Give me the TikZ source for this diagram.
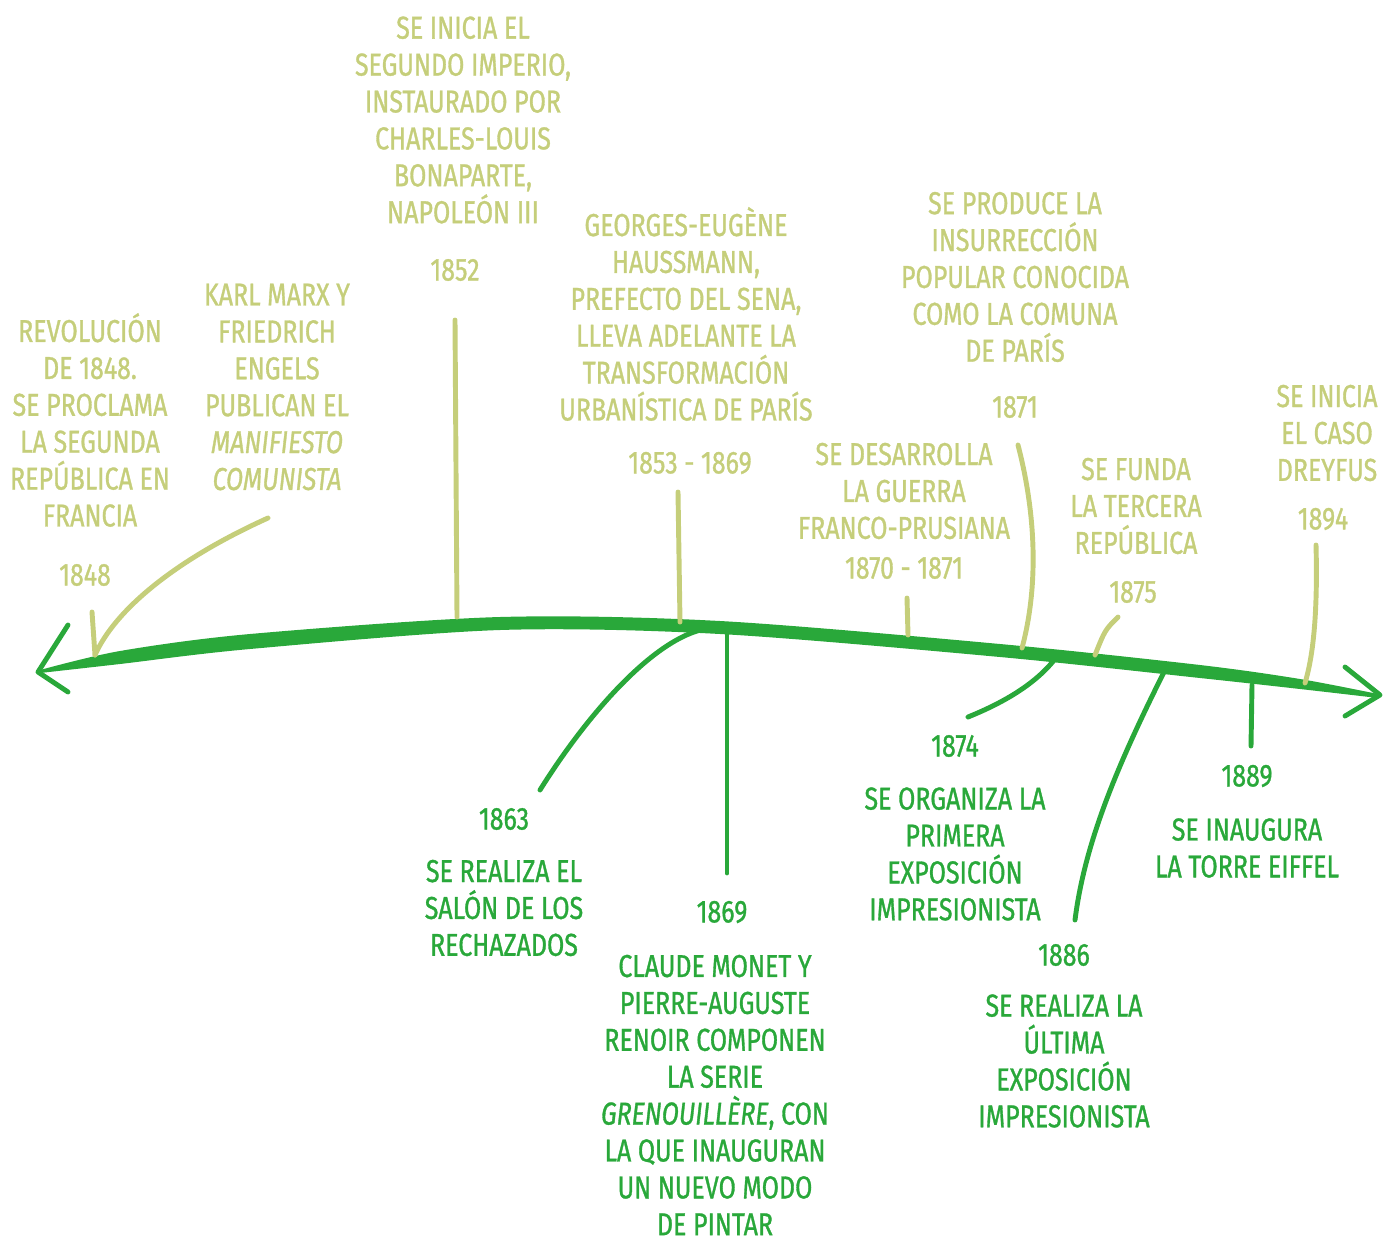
\documentclass[tikz,border=0pt]{standalone}
\usepackage{fontspec}
\setmainfont{Fira Sans}[FakeStretch=0.79,FakeBold=1]
\usepackage{tikz}

\definecolor{paleG}{RGB}{197,206,122}
\definecolor{deepG}{RGB}{41,168,58}

\tikzset{
  txt/.style={align=center,inner sep=0pt,font=\fontsize{18}{21}\selectfont},
  early/.style={txt,text=paleG},
  late/.style={txt,text=deepG},
  tick/.style={draw=paleG,line width=2.8pt,line cap=round},
  tock/.style={draw=deepG,line width=2.8pt,line cap=round}
}

\begin{document}
\begin{tikzpicture}[x=0.02cm,y=-0.02cm]
      \useasboundingbox (0,0) rectangle (1399,1241);

      % eje del tiempo
      \fill[deepG] plot[smooth] coordinates {(40,670) (120,651) (250,634) (500,617) (720,621) (1000,644) (1200,665) (1300,679) (1378,694)}
        -- plot[smooth] coordinates {(1378,698) (1300,689) (1200,678) (1000,657) (720,634) (500,630) (250,649) (120,664) (40,673)} -- cycle;
      \coordinate (lt) at (38,672); \coordinate (lu) at (68,625); \coordinate (ld) at (68,692);
      \coordinate (rt) at (1380,695); \coordinate (ru) at (1345,667); \coordinate (rd) at (1345,716);
      \draw[tock,line join=round] (lu) -- (lt) -- (ld);
      \draw[tock,line join=round] (ru) -- (rt) -- (rd);

      % arriba
      \node[early] (e1848) at (90,420) {REVOLUCIÓN\\DE 1848.\\SE PROCLAMA\\LA SEGUNDA\\REPÚBLICA EN\\FRANCIA};
      \node[early] (y1848) at (85,575) {1848};
      \node[early] (e1848m) at (277,387) {KARL MARX Y\\FRIEDRICH\\ENGELS\\PUBLICAN EL\\\textit{MANIFIESTO}\\\textit{COMUNISTA}};
      \node[early] (e1852) at (463,120) {SE INICIA EL\\SEGUNDO IMPERIO,\\INSTAURADO POR\\CHARLES-LOUIS\\BONAPARTE,\\NAPOLEÓN III};
      \node[early] (y1852) at (455,270) {1852};
      \node[early] (e1853) at (686,314) {GEORGES-EUGÈNE\\HAUSSMANN,\\PREFECTO DEL SENA,\\LLEVA ADELANTE LA\\TRANSFORMACIÓN\\URBANÍSTICA DE PARÍS};
      \node[early] (y1853) at (690,463) {1853 - 1869};
      \node[early] (e1870) at (904,491) {SE DESARROLLA\\LA GUERRA\\FRANCO-PRUSIANA};
      \node[early] (y1870) at (904,568) {1870 - 1871};
      \node[early] (e1871) at (1015,277) {SE PRODUCE LA\\INSURRECCIÓN\\POPULAR CONOCIDA\\COMO LA COMUNA\\DE PARÍS};
      \node[early] (y1871) at (1015,407) {1871};
      \node[early] (e1875) at (1136,506) {SE FUNDA\\LA TERCERA\\REPÚBLICA};
      \node[early] (y1875) at (1133,592) {1875};
      \node[early] (e1894) at (1327,433) {SE INICIA\\EL CASO\\DREYFUS};
      \node[early] (y1894) at (1323,519) {1894};

      % abajo
      \node[late] (y1863) at (504,819) {1863};
      \node[late] (e1863) at (504,908) {SE REALIZA EL\\SALÓN DE LOS\\RECHAZADOS};
      \node[late] (y1869) at (722,912) {1869};
      \node[late] (e1869) at (715,1095) {CLAUDE MONET Y\\PIERRE-AUGUSTE\\RENOIR COMPONEN\\LA SERIE\\\textit{GRENOUILLÈRE}, CON\\LA QUE INAUGURAN\\UN NUEVO MODO\\DE PINTAR};
      \node[late] (y1874) at (955,746) {1874};
      \node[late] (e1874) at (955,854) {SE ORGANIZA LA\\PRIMERA\\EXPOSICIÓN\\IMPRESIONISTA};
      \node[late] (y1886) at (1064,955) {1886};
      \node[late] (e1886) at (1064,1061) {SE REALIZA LA\\ÚLTIMA\\EXPOSICIÓN\\IMPRESIONISTA};
      \node[late] (y1889) at (1247,776) {1889};
      \node[late] (e1889) at (1247,848) {SE INAUGURA\\LA TORRE EIFFEL};

      % puntos de enganche
      \coordinate (a1848) at (92,612); \coordinate (b1848) at (95,655);
      \coordinate (a1848m) at (268,518);
      \coordinate (a1852) at (455,320); \coordinate (b1852) at (457,617);
      \coordinate (a1853) at (678,492); \coordinate (b1853) at (680,622);
      \coordinate (a1870) at (907,598); \coordinate (b1870) at (908,635);
      \coordinate (a1871) at (1018,445); \coordinate (b1871) at (1022,648);
      \coordinate (a1875) at (1118,617); \coordinate (b1875) at (1095,655);
      \coordinate (a1894) at (1316,545); \coordinate (b1894) at (1305,683);
      \coordinate (a1863) at (540,790); \coordinate (b1863) at (712,628);
      \coordinate (a1869) at (727,873); \coordinate (b1869) at (727,630);
      \coordinate (a1874) at (968,717); \coordinate (b1874) at (1058,655);
      \coordinate (a1886) at (1075,920); \coordinate (b1886) at (1165,670);
      \coordinate (a1889) at (1251,746); \coordinate (b1889) at (1252,685);

      \draw[tick] (a1848) -- (b1848);
      \draw[tick] (a1848m) .. controls (175,560) and (115,610) .. (b1848);
      \draw[tick] (a1852) -- (b1852);
      \draw[tick] (a1853) -- (b1853);
      \draw[tick] (a1870) -- (b1870);
      \draw[tick] (a1871) .. controls (1040,530) and (1035,600) .. (b1871);
      \draw[tick] (a1875) .. controls (1105,630) .. (b1875);
      \draw[tick] (a1894) .. controls (1318,620) and (1312,660) .. (b1894);

      \draw[tock] (a1863) .. controls (590,710) and (660,632) .. (b1863);
      \draw[tock] (a1869) -- (b1869);
      \draw[tock] (a1874) .. controls (1010,700) and (1040,680) .. (b1874);
      \draw[tock] (a1886) .. controls (1085,840) and (1120,760) .. (b1886);
      \draw[tock] (a1889) -- (b1889);
    \end{tikzpicture}
\end{document}
